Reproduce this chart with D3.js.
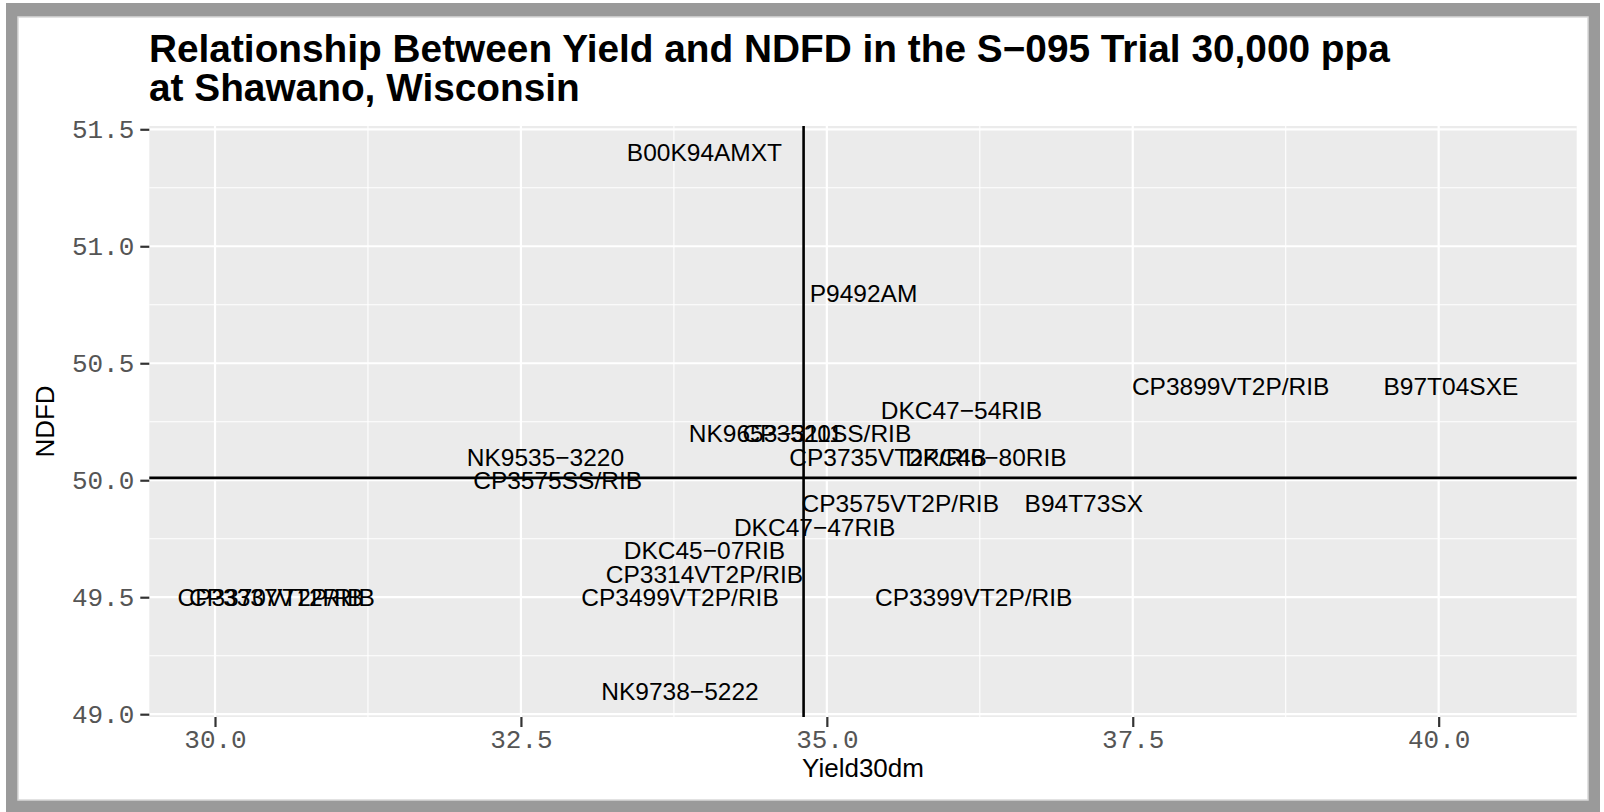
<!DOCTYPE html>
<html>
<head>
<meta charset="utf-8">
<script src="https://cdn.jsdelivr.net/npm/d3@7"></script>
<style>
  html, body { margin: 0; padding: 0; background: #fff; }
  svg { display: block; }
  .tick text { font-family: "Liberation Mono", "DejaVu Sans Mono", monospace; font-size: 26px; fill: #555; }
  .tick line { stroke: #333; stroke-width: 2.2; }
  .domain { display: none; }
</style>
</head>
<body>
<svg id="chart" width="1604" height="812"></svg>
<script>
const hybrids = [
  'B00K94AMXT', 'P9492AM', 'CP3899VT2P/RIB', 'B97T04SXE', 'DKC47\u221254RIB',
  'NK9653\u22123111', 'CP3520SS/RIB', 'CP3735VT2P/RIB', 'DKC46\u221280RIB',
  'NK9535\u22123220', 'CP3575SS/RIB', 'CP3575VT2P/RIB', 'B94T73SX',
  'DKC47\u221247RIB', 'DKC45\u221207RIB', 'CP3314VT2P/RIB', 'CP3499VT2P/RIB',
  'CP3399VT2P/RIB', 'NK9738\u22125222', 'CP3370VT2P/RIB', 'CP3337VT2RIB'
];
const yield30dm = [
  34.0, 35.3, 38.3, 40.1, 36.1,
  34.5, 35.0, 35.5, 36.3,
  32.7, 32.8, 35.6, 37.1,
  34.9, 34.0, 34.0, 33.8,
  36.2, 33.8, 30.5, 30.5
];
const ndfd = [
  51.4, 50.8, 50.4, 50.4, 50.3,
  50.2, 50.2, 50.1, 50.1,
  50.1, 50.0, 49.9, 49.9,
  49.8, 49.7, 49.6, 49.5,
  49.5, 49.1, 49.5, 49.5
];
const xLimits = [29.463, 41.128];
const yLimits = [48.988, 51.514];
const xBreaks = [30, 32.5, 35, 37.5, 40];
const xMinor = [31.25, 33.75, 36.25, 38.75];
const yBreaks = [49, 49.5, 50, 50.5, 51, 51.5];
const yMinor = [49.25, 49.75, 50.25, 50.75, 51.25];
const meanYield = 34.81;
const meanNdfd = 50.01;
const titleLines = ['Relationship Between Yield and NDFD in the S\u2212095 Trial 30,000 ppa', 'at Shawano, Wisconsin'];

const data = hybrids.map((h, i) => ({ hybrid: h, yield: yield30dm[i], ndfd: ndfd[i] }));

const svg = d3.select('#chart');
const panel = { left: 149.3, right: 1576.7, top: 126, bottom: 717 };

// outer frame
svg.append('rect').attr('x', 6).attr('y', 3).attr('width', 1594).attr('height', 809).attr('fill', '#9a9a9a');
svg.append('rect').attr('x', 18).attr('y', 17).attr('width', 1570).attr('height', 783)
  .attr('fill', '#fff').attr('stroke', '#d9d9d9').attr('stroke-width', 1.5);

const x = d3.scaleLinear().domain(xLimits).range([panel.left, panel.right]);
const y = d3.scaleLinear().domain(yLimits).range([panel.bottom, panel.top]);

svg.append('rect')
  .attr('x', panel.left).attr('y', panel.top)
  .attr('width', panel.right - panel.left).attr('height', panel.bottom - panel.top)
  .attr('fill', '#ebebeb');

// grid lines
const grid = svg.append('g').attr('class', 'grid');
function vlines(vals, w) {
  grid.append('g').selectAll('line').data(vals).enter().append('line')
    .attr('x1', d => x(d)).attr('x2', d => x(d))
    .attr('y1', panel.top).attr('y2', panel.bottom)
    .attr('stroke', '#fff').attr('stroke-width', w);
}
function hlines(vals, w) {
  grid.append('g').selectAll('line').data(vals).enter().append('line')
    .attr('y1', d => y(d)).attr('y2', d => y(d))
    .attr('x1', panel.left).attr('x2', panel.right)
    .attr('stroke', '#fff').attr('stroke-width', w);
}
vlines(xMinor, 1.1);
hlines(yMinor, 1.1);
vlines(xBreaks, 2.2);
hlines(yBreaks, 2.2);

// axes
svg.append('g')
  .attr('class', 'axis axis--x')
  .attr('transform', `translate(0,${panel.bottom})`)
  .call(d3.axisBottom(x).tickValues(xBreaks).tickFormat(d3.format('.1f')).tickSize(10).tickPadding(3));

svg.append('g')
  .attr('class', 'axis axis--y')
  .attr('transform', `translate(${panel.left},0)`)
  .call(d3.axisLeft(y).tickValues(yBreaks).tickFormat(d3.format('.1f')).tickSize(9).tickPadding(6));

// mean reference lines
svg.append('line')
  .attr('x1', panel.left).attr('x2', panel.right)
  .attr('y1', y(meanNdfd)).attr('y2', y(meanNdfd))
  .attr('stroke', '#000').attr('stroke-width', 2.6);
svg.append('line')
  .attr('x1', x(meanYield)).attr('x2', x(meanYield))
  .attr('y1', panel.top).attr('y2', panel.bottom)
  .attr('stroke', '#000').attr('stroke-width', 2.6);

// hybrid labels
svg.append('g').selectAll('text')
  .data(data)
  .enter().append('text')
  .attr('x', d => x(d.yield))
  .attr('y', d => y(d.ndfd))
  .attr('dy', '0.36em')
  .attr('text-anchor', 'middle')
  .style('font', '24.5px "Liberation Sans", Arial, sans-serif')
  .attr('fill', '#000')
  .text(d => d.hybrid);

// axis titles
svg.append('text')
  .attr('x', (panel.left + panel.right) / 2)
  .attr('y', 777)
  .attr('text-anchor', 'middle')
  .style('font', '26px "Liberation Sans", Arial, sans-serif')
  .text('Yield30dm');

svg.append('text')
  .attr('transform', `translate(54,${(panel.top + panel.bottom) / 2}) rotate(-90)`)
  .attr('text-anchor', 'middle')
  .style('font', '26px "Liberation Sans", Arial, sans-serif')
  .text('NDFD');

// title
svg.append('g').selectAll('text')
  .data(titleLines)
  .enter().append('text')
  .attr('x', 149)
  .attr('y', (d, i) => 62 + i * 39)
  .style('font', 'bold 38.8px "Liberation Sans", Arial, sans-serif')
  .attr('fill', '#000')
  .text(d => d);
</script>
</body>
</html>
